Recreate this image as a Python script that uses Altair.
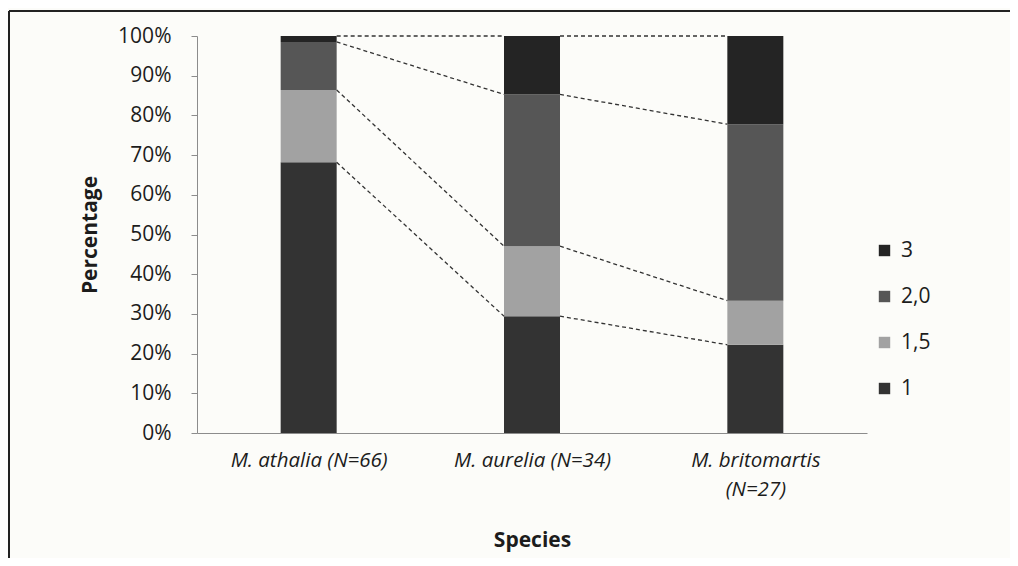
import altair as alt
import pandas as pd

species = ["M. athalia (N=66)", "M. aurelia (N=34)", "M. britomartis (N=27)"]
categories = ["1", "1,5", "2,0", "3"]
pct_1 = [68.2, 29.4, 22.2]
pct_15 = [18.2, 17.6, 11.1]
pct_20 = [12.1, 38.2, 44.4]
pct_3 = [1.5, 14.7, 22.2]
series = [pct_1, pct_15, pct_20, pct_3]

legend_order = ["3", "2,0", "1,5", "1"]
legend_colors = ["#242424", "#565656", "#a2a2a2", "#333333"]

FONT = "Open Sans"
TXT = "#1c1c1c"

rows = []
tops = {}
for i, s in enumerate(species):
    total = sum(ser[i] for ser in series)
    cum = 0.0
    for c, ser in zip(categories, series):
        y0 = cum / total
        cum += ser[i]
        y1 = cum / total
        rows.append(dict(species=s, category=c, y0=y0, y1=y1))
        tops[(c, i)] = y1
bars_df = pd.DataFrame(rows)

line_rows = []
for c in categories:
    for i in range(len(species) - 1):
        line_rows.append(dict(category=c, s_from=species[i], s_to=species[i + 1],
                              y_from=tops[(c, i)], y_to=tops[(c, i + 1)]))
lines_df = pd.DataFrame(line_rows)

x_scale = alt.Scale(type="point", domain=species, padding=0.5)
y_scale = alt.Scale(domain=[0, 1])

x_axis = alt.Axis(
    labelFontStyle="italic", labelFont=FONT, labelFontSize=20.5, labelColor=TXT,
    labelPadding=17, labelAngle=0, ticks=False, domainColor="#8c8c8c", domainWidth=1,
    labelExpr="datum.label == 'M. britomartis (N=27)' ? ['M. britomartis', '(N=27)'] : datum.label",
    labelLineHeight=29, labelBaseline="top",
    titleFont=FONT, titleFontSize=21, titleFontWeight="bold", titleColor=TXT,
    titleY=107, titleBaseline="middle",
)
y_axis = alt.Axis(
    format="%", values=[i / 10 for i in range(11)], grid=False,
    labelFont=FONT, labelFontSize=21, labelColor=TXT, labelPadding=20,
    tickSize=6, tickColor="#8c8c8c", domainColor="#8c8c8c",
    titleFont=FONT, titleFontSize=21, titleFontWeight="bold", titleColor=TXT,
    titleX=-107, titleBaseline="middle", titleAngle=270,
)

bars = alt.Chart(bars_df).mark_bar(size=56).encode(
    x=alt.X("species:N", scale=x_scale, axis=x_axis, title="Species"),
    y=alt.Y("y0:Q", scale=y_scale, axis=y_axis, title="Percentage"),
    y2="y1:Q",
    color=alt.Color(
        "category:N",
        scale=alt.Scale(domain=legend_order, range=legend_colors),
        legend=alt.Legend(
            orient="none", legendX=677, legendY=204, title=None,
            symbolType="square", symbolSize=130, symbolStrokeWidth=0,
            labelFont=FONT, labelFontSize=21, labelColor=TXT,
            rowPadding=24, labelOffset=6,
        ),
    ),
)

series_lines = alt.Chart(lines_df).mark_rule(
    strokeDash=[4, 3], strokeWidth=1.3, color="#333333", xOffset=28, x2Offset=-28
).encode(
    x=alt.X("s_from:N", scale=x_scale, axis=x_axis, title="Species"),
    x2="s_to:N",
    y=alt.Y("y_from:Q", scale=y_scale, axis=y_axis, title="Percentage"),
    y2="y_to:Q",
)

frame_df = pd.DataFrame({"k": [0]})
left_border = alt.Chart(frame_df).mark_rule(color="#222222", strokeWidth=2).encode(
    x=alt.value(-188), y=alt.value(-25), y2=alt.value(560)
)
top_border = alt.Chart(frame_df).mark_rule(color="#222222", strokeWidth=2).encode(
    x=alt.value(-188), x2=alt.value(900), y=alt.value(-25)
)

chart = alt.layer(bars, series_lines, left_border, top_border).properties(
    width=670, height=397,
    autosize=alt.AutoSizeParams(type="none"),
    padding={"left": 189, "top": 28, "right": 143, "bottom": 125},
    background="#fcfcf9",
).configure_view(stroke=None)

chart.save("out.html", embed_options={"renderer": "svg", "actions": False})
